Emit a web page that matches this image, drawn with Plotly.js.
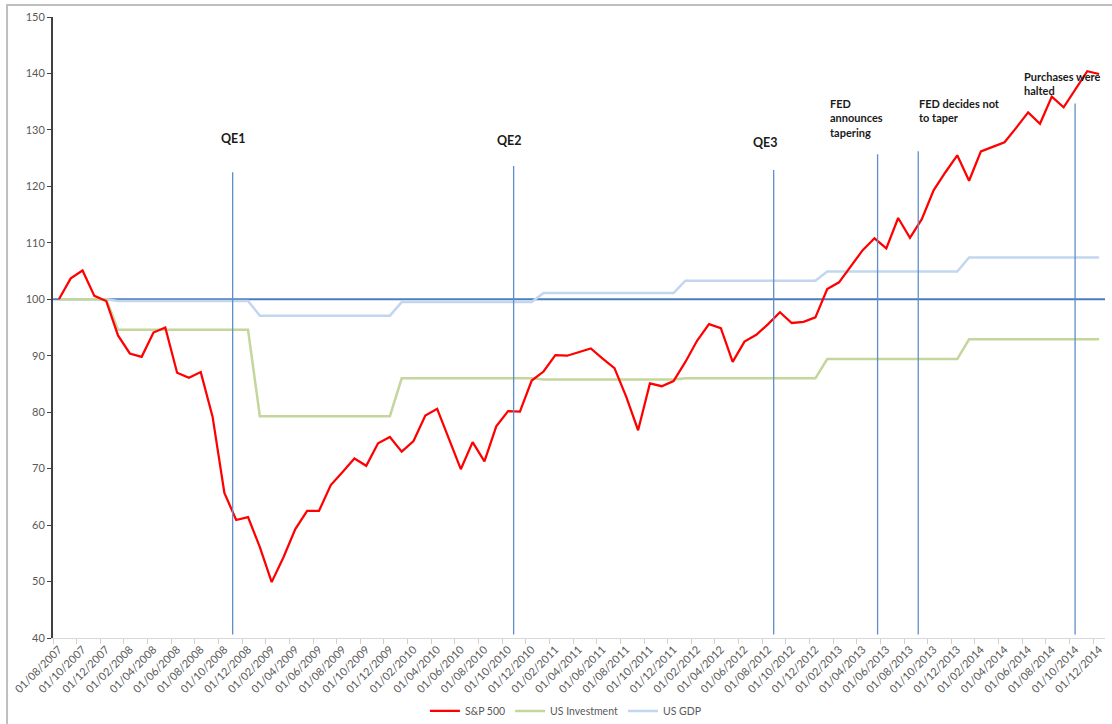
<!DOCTYPE html>
<html>
<head>
<meta charset="utf-8">
<script src="https://cdn.plot.ly/plotly-3.0.1.min.js"></script>
<style>
  html, body { margin: 0; padding: 0; background: #ffffff; }
  #chart { width: 1112px; height: 724px; }
</style>
</head>
<body>
<div id="chart"></div>
<script>
// Monthly categories (day/month/year)
const months = [
  "01/08/2007","01/09/2007","01/10/2007","01/11/2007","01/12/2007",
  "01/01/2008","01/02/2008","01/03/2008","01/04/2008","01/05/2008","01/06/2008","01/07/2008","01/08/2008","01/09/2008","01/10/2008","01/11/2008","01/12/2008",
  "01/01/2009","01/02/2009","01/03/2009","01/04/2009","01/05/2009","01/06/2009","01/07/2009","01/08/2009","01/09/2009","01/10/2009","01/11/2009","01/12/2009",
  "01/01/2010","01/02/2010","01/03/2010","01/04/2010","01/05/2010","01/06/2010","01/07/2010","01/08/2010","01/09/2010","01/10/2010","01/11/2010","01/12/2010",
  "01/01/2011","01/02/2011","01/03/2011","01/04/2011","01/05/2011","01/06/2011","01/07/2011","01/08/2011","01/09/2011","01/10/2011","01/11/2011","01/12/2011",
  "01/01/2012","01/02/2012","01/03/2012","01/04/2012","01/05/2012","01/06/2012","01/07/2012","01/08/2012","01/09/2012","01/10/2012","01/11/2012","01/12/2012",
  "01/01/2013","01/02/2013","01/03/2013","01/04/2013","01/05/2013","01/06/2013","01/07/2013","01/08/2013","01/09/2013","01/10/2013","01/11/2013","01/12/2013",
  "01/01/2014","01/02/2014","01/03/2014","01/04/2014","01/05/2014","01/06/2014","01/07/2014","01/08/2014","01/09/2014","01/10/2014","01/11/2014","01/12/2014"
];

const sp500 = [
  100.0, 103.7, 105.1, 100.6, 99.7,
  93.6, 90.4, 89.8, 94.1, 95.0, 87.0, 86.1, 87.1, 79.2, 65.7, 60.9, 61.4,
  56.1, 49.9, 54.3, 59.3, 62.5, 62.5, 67.1, 69.4, 71.8, 70.5, 74.5, 75.6,
  73.0, 74.9, 79.4, 80.6, 75.2, 69.9, 74.7, 71.3, 77.5, 80.2, 80.1, 85.6,
  87.2, 90.1, 90.0, 90.6, 91.3, 89.5, 87.8, 82.7, 76.8, 85.1, 84.6, 85.5,
  88.9, 92.7, 95.6, 94.9, 88.9, 92.5, 93.7, 95.6, 97.7, 95.8, 96.0, 96.8,
  101.8, 103.0, 105.8, 108.7, 110.8, 109.0, 114.4, 110.9, 114.2, 119.3, 122.5, 125.5,
  121.0, 126.2, 127.0, 127.8, 130.4, 133.1, 131.1, 135.9, 134.0, 137.1, 140.4, 139.9
];

const usInvestment = [
  100.0, 100.0, 100.0, 100.0, 100.0,
  94.6, 94.6, 94.6, 94.6, 94.6, 94.6, 94.6, 94.6, 94.6, 94.6, 94.6, 94.6,
  79.3, 79.3, 79.3, 79.3, 79.3, 79.3, 79.3, 79.3, 79.3, 79.3, 79.3, 79.3,
  86.0, 86.0, 86.0, 86.0, 86.0, 86.0, 86.0, 86.0, 86.0, 86.0, 86.0, 86.0,
  85.8, 85.8, 85.8, 85.8, 85.8, 85.8, 85.8, 85.8, 85.8, 85.8, 85.8, 85.8,
  86.0, 86.0, 86.0, 86.0, 86.0, 86.0, 86.0, 86.0, 86.0, 86.0, 86.0, 86.0,
  89.4, 89.4, 89.4, 89.4, 89.4, 89.4, 89.4, 89.4, 89.4, 89.4, 89.4, 89.4,
  92.9, 92.9, 92.9, 92.9, 92.9, 92.9, 92.9, 92.9, 92.9, 92.9, 92.9, 92.9
];

const usGDP = [
  100.0, 100.0, 100.0, 100.0, 100.0,
  99.7, 99.7, 99.7, 99.7, 99.7, 99.7, 99.7, 99.7, 99.7, 99.7, 99.7, 99.7,
  97.1, 97.1, 97.1, 97.1, 97.1, 97.1, 97.1, 97.1, 97.1, 97.1, 97.1, 97.1,
  99.5, 99.5, 99.5, 99.5, 99.5, 99.5, 99.5, 99.5, 99.5, 99.5, 99.5, 99.5,
  101.1, 101.1, 101.1, 101.1, 101.1, 101.1, 101.1, 101.1, 101.1, 101.1, 101.1, 101.1,
  103.3, 103.3, 103.3, 103.3, 103.3, 103.3, 103.3, 103.3, 103.3, 103.3, 103.3, 103.3,
  104.9, 104.9, 104.9, 104.9, 104.9, 104.9, 104.9, 104.9, 104.9, 104.9, 104.9, 104.9,
  107.4, 107.4, 107.4, 107.4, 107.4, 107.4, 107.4, 107.4, 107.4, 107.4, 107.4, 107.4
];

const seriesNames = ["S&P 500", "US Investment", "US GDP"];

// Policy events: position on the month axis (category index) and marker-line top value
const eventLabels = ["QE1", "QE2", "QE3", "FED<br>announces<br>tapering", "FED decides not<br>to taper", "Purchases were<br>halted"];
const eventPos = [14.7, 38.47, 60.47, 69.26, 72.7, 85.97];
const eventTop = [122.5, 123.6, 122.9, 125.7, 126.2, 134.7];
const baseline = 100;

// Label placement (layout only)
const labelLayout = [
  {x: 14.8,  y: 128.4, xanchor: "center", yanchor: "middle", size: 12.5},
  {x: 38.1,  y: 128.1, xanchor: "center", yanchor: "middle", size: 12.5},
  {x: 59.8,  y: 127.7, xanchor: "center", yanchor: "middle", size: 12.5},
  {x: 65.1,  y: 136.1, xanchor: "left",   yanchor: "top",    size: 11},
  {x: 72.6,  y: 136.1, xanchor: "left",   yanchor: "top",    size: 11},
  {x: 81.5,  y: 141.0, xanchor: "left",   yanchor: "top",    size: 11}
];

const FONT = "Lato, 'Liberation Sans', Arial, sans-serif";

const traces = [
  {x: months, y: usGDP, name: seriesNames[2], type: "scatter", mode: "lines",
   line: {color: "#C2D6F0", width: 2.5}},
  {x: months, y: usInvestment, name: seriesNames[1], type: "scatter", mode: "lines",
   line: {color: "#C3D69B", width: 2.5}},
  {x: months, y: sp500, name: seriesNames[0], type: "scatter", mode: "lines",
   line: {color: "#FF0000", width: 2.25}}
];

const shapes = [
  {type: "line", xref: "paper", x0: 0, x1: 1, yref: "y", y0: baseline, y1: baseline,
   line: {color: "#4A7EBB", width: 2}, layer: "below"},
  {type: "rect", xref: "paper", yref: "paper", x0: -0.0437, x1: 1.02, y0: -0.2, y1: 1.0193,
   line: {color: "#BFBFBF", width: 2}, fillcolor: "rgba(0,0,0,0)", layer: "below"}
];
eventPos.forEach((p, i) => {
  shapes.push({type: "line", xref: "x", yref: "y", x0: p, x1: p, y0: 40.6, y1: eventTop[i],
    line: {color: "#5F8DC8", width: 1.3}});
});

const annotations = eventLabels.map((t, i) => ({
  x: labelLayout[i].x, y: labelLayout[i].y, xref: "x", yref: "y",
  text: "<b>" + t + "</b>", showarrow: false, align: "left",
  xanchor: labelLayout[i].xanchor, yanchor: labelLayout[i].yanchor,
  font: {family: FONT, size: labelLayout[i].size, color: "#1a1a1a"}
}));

const layout = {
  width: 1112, height: 724,
  margin: {l: 53, r: 7, t: 17, b: 86, autoexpand: false},
  paper_bgcolor: "#ffffff", plot_bgcolor: "#ffffff",
  showlegend: true,
  legend: {orientation: "h", x: 0.4876, xanchor: "center",
           yref: "container", y: 0.018, yanchor: "middle",
           traceorder: "reversed", itemwidth: 30,
           font: {family: FONT, size: 10.5, color: "#595959"}},
  xaxis: {
    type: "category", range: [-0.5, 88.5], tickmode: "linear", tick0: 0, dtick: 2,
    tickson: "boundaries", ticks: "outside", ticklen: 5, tickcolor: "#D0D0D0",
    showline: true, linecolor: "#D9D9D9", linewidth: 1, showgrid: false, zeroline: false,
    automargin: false,
    tickangle: -45, tickfont: {family: FONT, size: 11, color: "#595959"}, fixedrange: true
  },
  yaxis: {
    range: [40, 150], tickmode: "linear", tick0: 40, dtick: 10,
    ticks: "outside", ticklen: 4, tickcolor: "#404040", automargin: false,
    showline: true, linecolor: "#404040", linewidth: 2, showgrid: false, zeroline: false,
    tickfont: {family: FONT, size: 11, color: "#595959"}, fixedrange: true
  },
  shapes: shapes,
  annotations: annotations
};

Plotly.newPlot("chart", traces, layout, {displayModeBar: false, staticPlot: true});
</script>
</body>
</html>
